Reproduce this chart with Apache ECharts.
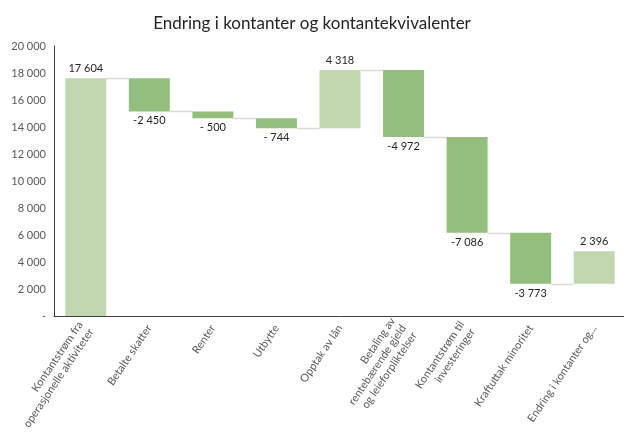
<!DOCTYPE html>
<html><head><meta charset="utf-8">
<script src="https://cdn.jsdelivr.net/npm/echarts@6/dist/echarts.min.js"></script>
<style>html,body{margin:0;padding:0;background:#fff}#c{width:624px;height:440px}</style>
</head><body><div id="c"></div>
<script>
const categories = ['Kontantstrøm fra\noperasjonelle aktiviteter', 'Betalte skatter', 'Renter', 'Utbytte', 'Opptak av lån', 'Betaling av\nrentebærende gjeld\nog leieforpliktelser', 'Kontantstrøm til\ninvesteringer', 'Kraftuttak minoritet', 'Endring i kontanter og...'];
const values = [17604, -2450, -500, -744, 4318, -4972, -7086, -3773, 2396];
const valueLabels = ['17 604', '-2 450', '- 500', '- 744', '4 318', '-4 972', '-7 086', '-3 773', '2 396'];
const yTickLabels = ['-', '2 000', '4 000', '6 000', '8 000', '10 000', '12 000', '14 000', '16 000', '18 000', '20 000'];

const LIGHT = '#c0d7b0', DARK = '#93be7c';
const FONT = 'Lato';

// waterfall layout
const bases = [], heights = [], ends = [];
let run = 0;
values.forEach(v => {
  const end = run + v;
  bases.push(Math.min(run, end));
  heights.push(Math.abs(v));
  ends.push(end);
  run = end;
});
const connectors = [];
for (let i = 0; i < values.length - 1; i++) connectors.push([i, ends[i]]);

const BAR_RATIO = 0.645;
const chart = echarts.init(document.getElementById('c'), null, {renderer: 'canvas'});
chart.setOption({
  animation: false,
  textStyle: {fontFamily: FONT},
  title: {
    text: 'Endring i kontanter og kontantekvivalenter',
    left: 'center', top: 10,
    textStyle: {fontFamily: FONT, fontSize: 17, fontWeight: 'normal', color: '#262626'}
  },
  grid: {left: 54, right: -2, top: 46, bottom: 124, containLabel: false, outerBoundsMode: 'none'},
  xAxis: {
    type: 'category', data: categories,
    axisTick: {show: false},
    axisLine: {lineStyle: {color: '#404040', width: 1}},
    axisLabel: {interval: 0, rotate: 56, fontSize: 11, color: '#595959', fontFamily: FONT, lineHeight: 13, margin: 10}
  },
  yAxis: {
    type: 'value', min: 0, max: 20000, interval: 2000,
    splitLine: {show: false},
    axisLine: {show: true, lineStyle: {color: '#404040', width: 1}},
    axisTick: {show: false},
    axisLabel: {fontSize: 11, color: '#595959', fontFamily: FONT, margin: 8,
      formatter: v => yTickLabels[Math.round(v / 2000)]}
  },
  series: [
    {type: 'bar', stack: 'w', data: bases, itemStyle: {color: 'transparent'}, barWidth: (BAR_RATIO * 100) + '%', silent: true},
    {type: 'bar', stack: 'w', barWidth: (BAR_RATIO * 100) + '%',
      data: heights.map((h, i) => ({
        value: h,
        itemStyle: {color: values[i] >= 0 ? LIGHT : DARK},
        label: {show: true, position: values[i] >= 0 ? 'top' : 'bottom', distance: 4,
          formatter: valueLabels[i], fontSize: 11, color: '#262626', fontFamily: FONT}
      }))
    },
    {type: 'custom', data: connectors, encode: {x: 0, y: 1}, silent: true, z: 1,
      renderItem: (params, api) => {
        const p = api.coord([api.value(0), api.value(1)]);
        const band = api.size([1, 0])[0];
        const half = band * BAR_RATIO / 2;
        const y = Math.round(p[1]) + 0.5;
        return {type: 'line', shape: {x1: p[0] + half, y1: y, x2: p[0] + band - half, y2: y},
          style: {stroke: '#d9d9d9', lineWidth: 1.5}};
      }
    }
  ]
});
</script></body></html>
